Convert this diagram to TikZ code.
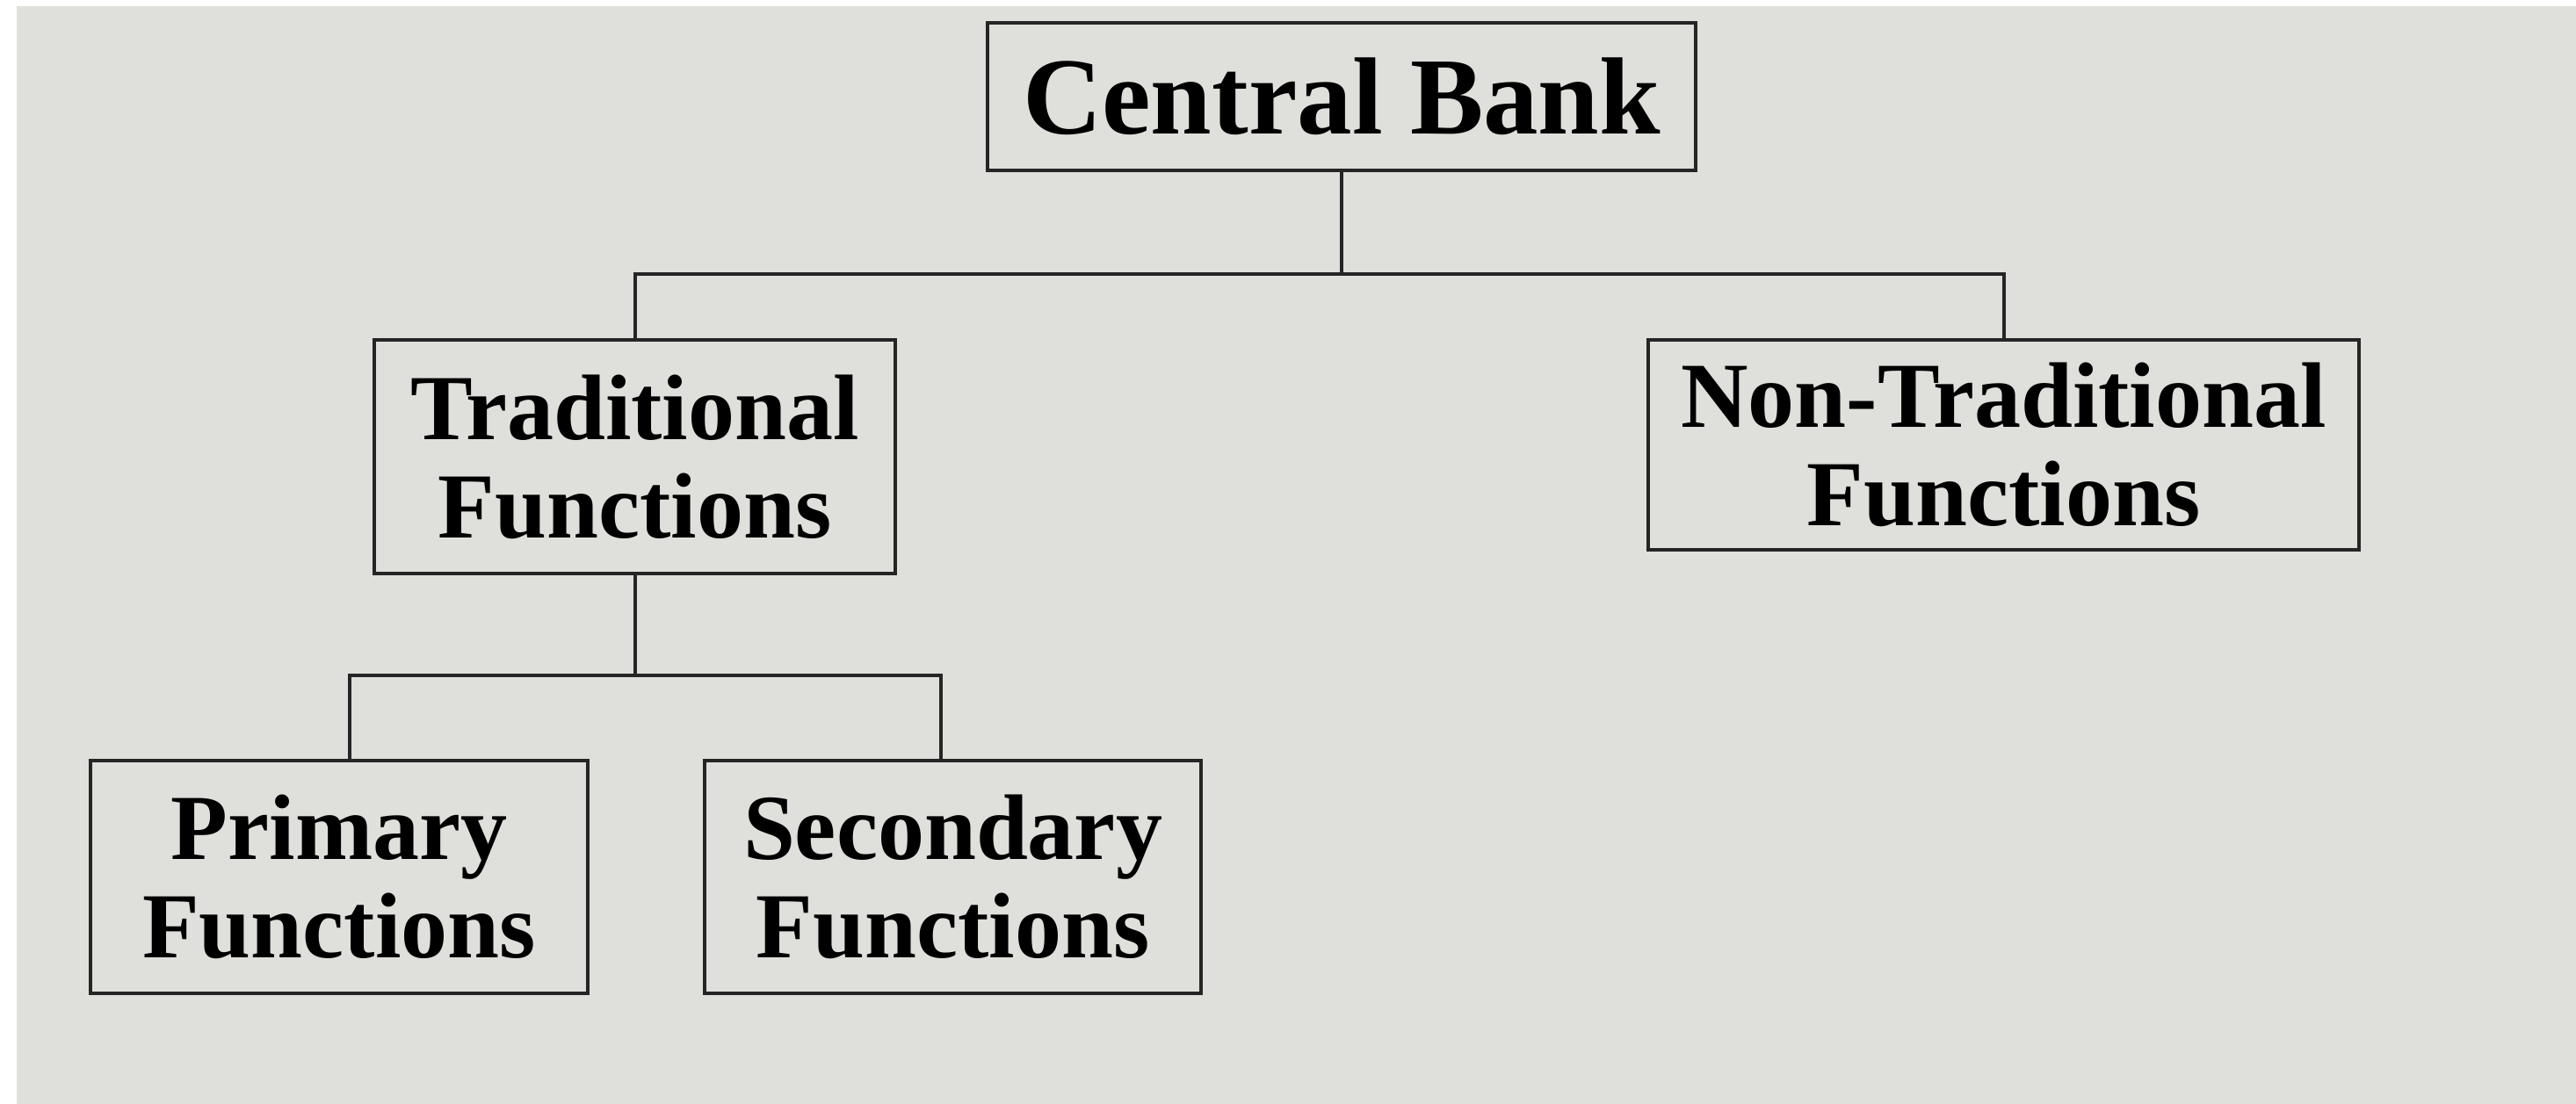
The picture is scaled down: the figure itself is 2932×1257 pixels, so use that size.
\documentclass[tikz,border=0pt]{standalone}
\usepackage{fontspec}
\setmainfont{Liberation Serif}
\definecolor{bgc}{HTML}{DFE0DB}
\definecolor{linec}{HTML}{252525}
\begin{document}
\begin{tikzpicture}[x=1pt,y=-1pt,
  box/.style={draw=linec, line width=4pt, inner sep=0pt, align=center, font=\bfseries\fontsize{106}{112}\selectfont},
  conn/.style={draw=linec, line width=4pt}]
\useasboundingbox (0,0) rectangle (2932,1257);
\fill[white] (0,0) rectangle (2932,1257);
\fill[bgc] (19,7) rectangle (2932,1257);
\node[box, minimum width=806pt, minimum height=168pt, font=\bfseries\fontsize{125}{150}\selectfont] (cb) at (1527,110) {Central Bank};
\node[box, minimum width=593pt, minimum height=266pt] (trad) at (722.5,520) {Traditional\\Functions};
\node[box, minimum width=809pt, minimum height=239pt] (nt) at (2280.5,506.5) {Non-Traditional\\Functions};
\node[box, minimum width=566pt, minimum height=265pt] (prim) at (386,998.5) {Primary\\Functions};
\node[box, minimum width=565pt, minimum height=265pt] (sec) at (1084.5,998.5) {Secondary\\Functions};
\coordinate (j1) at (1527,312);
\coordinate (j2) at (722.5,769);
\coordinate (pt) at (398,866);
\coordinate (st) at (1071,866);
\draw[conn] (cb.south) -- (j1);
\draw[conn] (trad.north) |- (j1) -| (nt.north);
\draw[conn] (trad.south) -- (j2);
\draw[conn] (pt) |- (j2) -| (st);
\end{tikzpicture}
\end{document}
